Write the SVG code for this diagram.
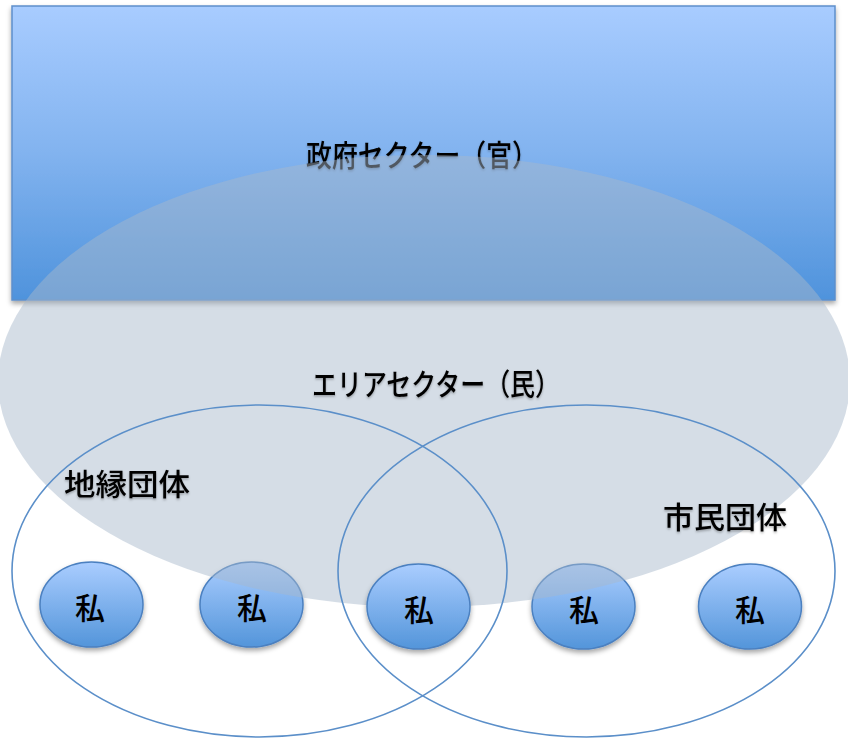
<svg xmlns="http://www.w3.org/2000/svg" width="848" height="738" viewBox="0 0 848 738">
  <style>
    .lbl { font-family: "Noto Sans CJK JP", "Noto Sans", sans-serif; fill: #000; font-weight: 500; }
    .big { font-size: 30px; }
    .grp { font-size: 30px; }
    .me { font-size: 30px; text-anchor: middle; }
    .pv { fill: url(#pvGrad); stroke: #4b80c0; stroke-width: 1.5; filter: url(#shadow); }
    .venn { fill: none; stroke: #5b8fc9; stroke-width: 1.6; }
  </style>
  <defs>
    <linearGradient id="rectGrad" x1="0" y1="0" x2="0" y2="1">
      <stop offset="0" stop-color="#a8ccff"/>
      <stop offset="0.5" stop-color="#82b3ef"/>
      <stop offset="1" stop-color="#4f93dc"/>
    </linearGradient>
    <linearGradient id="pvGrad" x1="0" y1="0" x2="0" y2="1">
      <stop offset="0" stop-color="#aacdff"/>
      <stop offset="1" stop-color="#5395da"/>
    </linearGradient>
    <filter id="shadow" x="-20%" y="-20%" width="140%" height="150%">
      <feDropShadow dx="0" dy="3" stdDeviation="2.5" flood-color="#000" flood-opacity="0.35"/>
    </filter>
    <filter id="tshadow" x="-10%" y="-30%" width="120%" height="160%">
      <feDropShadow dx="0" dy="1.5" stdDeviation="1.2" flood-color="#000" flood-opacity="0.3"/>
    </filter>
  </defs>

  <g id="government">
    <rect x="12" y="6" width="823" height="294" fill="url(#rectGrad)" stroke="#5d8fcb" stroke-width="1.5" filter="url(#shadow)"/>
    <text class="lbl big" x="306" y="166" textLength="232" lengthAdjust="spacingAndGlyphs" filter="url(#tshadow)">政府セクター（官）</text>
  </g>

  <g id="private2">
    <ellipse class="pv" cx="251.5" cy="604.5" rx="51.5" ry="42.5"/>
  </g>
  <g id="private4">
    <ellipse class="pv" cx="583.5" cy="606.5" rx="51.5" ry="42.5"/>
  </g>

  <g id="area">
    <ellipse cx="424" cy="381" rx="426" ry="226" fill="rgb(168,184,203)" fill-opacity="0.48"/>
    <text class="lbl big" x="312" y="395" textLength="248" lengthAdjust="spacingAndGlyphs" filter="url(#tshadow)">エリアセクター（民）</text>
  </g>

  <g id="chien">
    <ellipse class="venn" cx="259.5" cy="571" rx="247.5" ry="166"/>
    <text class="lbl grp" x="64" y="495" textLength="126" lengthAdjust="spacingAndGlyphs" filter="url(#tshadow)">地縁団体</text>
  </g>
  <g id="shimin">
    <ellipse class="venn" cx="586.5" cy="571" rx="248.5" ry="166"/>
    <text class="lbl grp" x="663" y="528" textLength="124" lengthAdjust="spacingAndGlyphs" filter="url(#tshadow)">市民団体</text>
  </g>

  <g id="private1">
    <ellipse class="pv" cx="91.5" cy="604.5" rx="51.5" ry="42.5"/>
  </g>
  <g id="private3">
    <ellipse class="pv" cx="418.5" cy="606.5" rx="51.5" ry="42.5"/>
  </g>
  <g id="private5">
    <ellipse class="pv" cx="750" cy="606.5" rx="51.5" ry="42.5"/>
  </g>

  <g id="private-labels">
    <text class="lbl me" x="90" y="619">私</text>
    <text class="lbl me" x="252" y="619">私</text>
    <text class="lbl me" x="419" y="621">私</text>
    <text class="lbl me" x="584" y="621">私</text>
    <text class="lbl me" x="750" y="621">私</text>
  </g>
</svg>
